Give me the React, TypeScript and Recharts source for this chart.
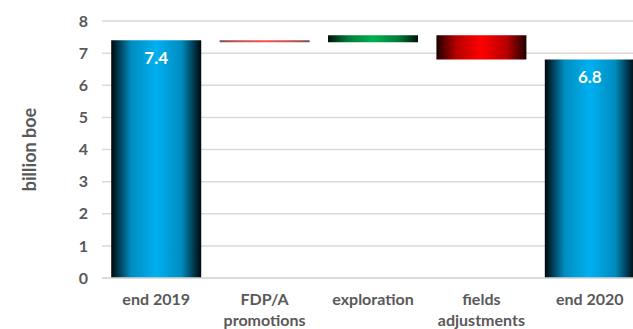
import { BarChart, Bar, XAxis, YAxis, CartesianGrid, Cell, Label } from "recharts";

// reserves bridge, billion boe
const categories = ["end 2019", "FDP/A\npromotions", "exploration", "fields\nadjustments", "end 2020"];
const startTotal = 7.4;
const changes = [-0.06, 0.22, -0.76];
const endTotal = 6.8;
const yTicks = [0, 1, 2, 3, 4, 5, 6, 7, 8];

const FILLS = ["url(#gBlue)", "url(#gRedLine)", "url(#gGreen)", "url(#gRed)", "url(#gBlue)"];
const FONT = "Lato, 'Open Sans', sans-serif";
const GREY = "#595959";

// floating bars: each row carries [low, high]
function buildRows() {
  const rows: { name: string; range: [number, number]; total?: number }[] = [];
  rows.push({ name: categories[0], range: [0, startTotal], total: startTotal });
  let level = startTotal;
  changes.forEach((c, i) => {
    const next = level + c;
    rows.push({ name: categories[i + 1], range: [Math.min(level, next), Math.max(level, next)] });
    level = next;
  });
  rows.push({ name: categories[4], range: [0, endTotal], total: endTotal });
  return rows;
}

const data = buildRows();

function CategoryTick(props: any) {
  const { x, y, payload } = props;
  const lines = String(payload.value).split("\n");
  return (
    <text x={x} y={y} textAnchor="middle" fill={GREY} fontFamily={FONT} fontWeight={700} fontSize={16}>
      {lines.map((l, i) => (
        <tspan key={i} x={x} dy={i === 0 ? 19 : 21}>
          {l}
        </tspan>
      ))}
    </text>
  );
}

function TotalLabel(props: any) {
  const { x, y, width, index } = props;
  const row = data[index];
  if (!row || row.total === undefined) return null;
  return (
    <text
      x={x + width / 2}
      y={y + 17}
      textAnchor="middle"
      dominantBaseline="central"
      fill="#ffffff"
      fontFamily={FONT}
      fontWeight={700}
      fontSize={17}
    >
      {row.total.toFixed(1)}
    </text>
  );
}

function sideGradient(id: string, edge: string, mid: string, center: string) {
  return (
    <linearGradient id={id} x1="0" y1="0" x2="1" y2="0">
      <stop offset="0%" stopColor={edge} />
      <stop offset="22%" stopColor={mid} />
      <stop offset="50%" stopColor={center} />
      <stop offset="78%" stopColor={mid} />
      <stop offset="100%" stopColor={edge} />
    </linearGradient>
  );
}

export default function App() {
  return (
    <div style={{ position: "fixed", left: 0, top: 0, width: 633, height: 329, overflow: "hidden", background: "#fff" }}>
      <BarChart
        width={660}
        height={329}
        data={data}
        margin={{ top: 21, right: 16, bottom: 1, left: 0 }}
        barCategoryGap="8.5%"
      >
        <defs>
          {sideGradient("gBlue", "#00080c", "#008cc0", "#00b0f0")}
          {sideGradient("gRed", "#1e0000", "#b80000", "#ff0000")}
          {sideGradient("gGreen", "#001208", "#007c3c", "#00b050")}
          {sideGradient("gRedLine", "#7a4c4c", "#c85050", "#ff5050")}
        </defs>
        <CartesianGrid vertical={false} stroke="#d9d9d9" strokeWidth={1.5} />
        <XAxis
          dataKey="name"
          interval={0}
          tickLine={false}
          axisLine={{ stroke: "#d9d9d9", strokeWidth: 1.5 }}
          height={50}
          tick={<CategoryTick />}
        />
        <YAxis
          domain={[0, 8]}
          ticks={yTicks}
          width={102}
          axisLine={false}
          tickLine={false}
          tickSize={0}
          tickMargin={14}
          tick={{ fill: GREY, fontFamily: FONT, fontWeight: 700, fontSize: 16 }}
        >
          <Label
            value="billion boe"
            angle={-90}
            position="insideLeft"
            offset={30}
            style={{ fill: GREY, fontFamily: FONT, fontWeight: 700, fontSize: 18, textAnchor: "middle" }}
          />
        </YAxis>
        <Bar dataKey="range" isAnimationActive={false} label={<TotalLabel />}>
          {data.map((d, i) => (
            <Cell key={d.name} fill={FILLS[i]} />
          ))}
        </Bar>
      </BarChart>
    </div>
  );
}
